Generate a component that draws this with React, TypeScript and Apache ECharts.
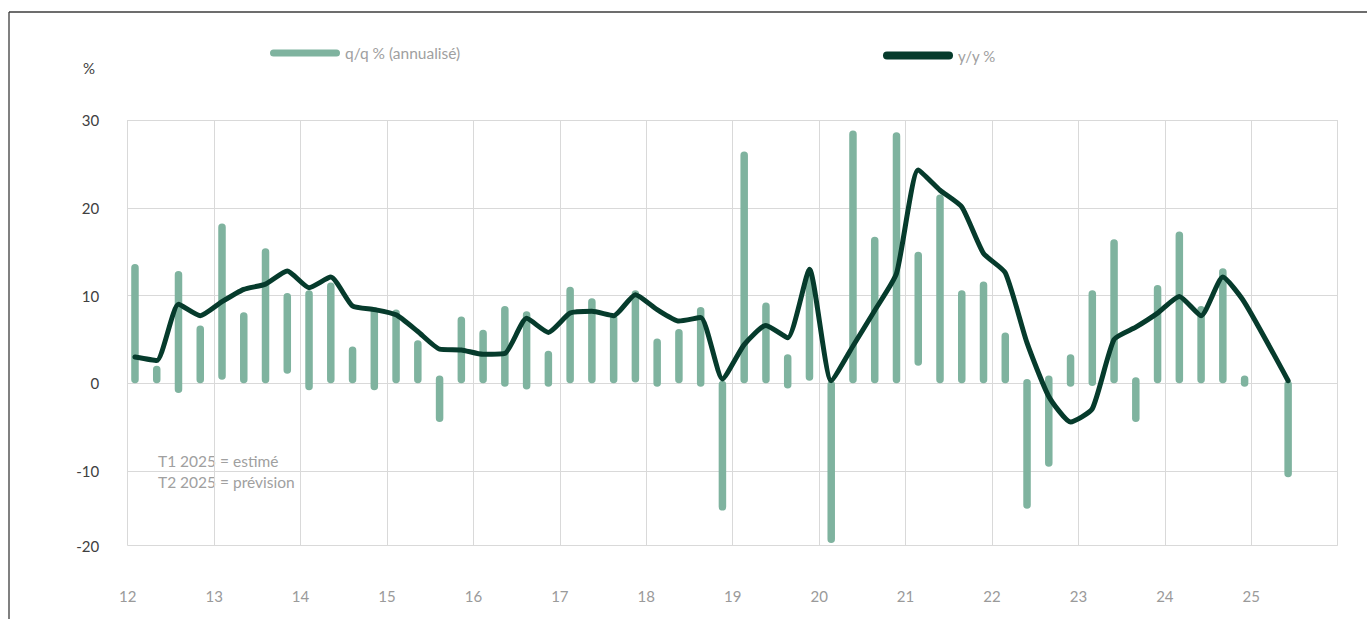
import React, { useEffect, useRef } from "react";
import * as echarts from "echarts";

// ---- Data ----
const years: number[] = [2012, 2013, 2014, 2015, 2016, 2017, 2018, 2019, 2020, 2021, 2022, 2023, 2024, 2025];
const quarterNames: string[] = ["T1", "T2", "T3", "T4"];
const quarters: string[] = [];
years.forEach((y) => quarterNames.forEach((q) => quarters.push(`${q} ${y}`)));
quarters.splice(54); // 2012 T1 .. 2025 T2

const yearTickLabels: string[] = ["12", "13", "14", "15", "16", "17", "18", "19", "20", "21", "22", "23", "24", "25"];

// q/q % (annualised): bar drawn from low to high
const qqHigh: (number | null)[] = [
  13.6, 2.0, 12.8, 6.6, 18.2, 8.1, 15.4, 10.3, 10.6, 11.5, 4.2, 8.7, 8.4, 4.9,
  0.9, 7.6, 6.1, 8.8, 8.2, 3.7, 11.0, 9.7, 7.8, 10.6, 5.1, 6.2, 8.7, 0.3,
  26.4, 9.2, 3.3, 13.1, 0.3, 28.8, 16.7, 28.6, 15.0, 21.5, 10.6, 11.6, 5.8, 0.5,
  0.9, 3.3, 10.6, 16.4, 0.7, 11.2, 17.3, 8.8, 13.1, 0.9, null, 0.3,
];
const qqLow: (number | null)[] = [
  0, 0, -1.1, 0, 0.4, 0, 0, 1.1, -0.8, 0, 0, -0.8, 0, 0,
  -4.4, 0, 0, -0.4, -0.7, -0.4, 0, 0, 0, 0.1, -0.4, 0, -0.4, -14.5,
  0, 0, -0.6, 0.3, -18.2, 0, 0, 0, 2.0, 0, 0, 0, 0, -14.3,
  -9.5, -0.4, -0.3, 0, -4.4, 0, 0, 0, 0, -0.4, null, -10.7,
];
// y/y %
const yoy: (number | null)[] = [
  3.0, 2.6, 9.0, 7.7, 9.3, 10.7, 11.3, 12.8, 10.9, 12.1, 8.8, 8.4, 7.8, 5.9,
  3.9, 3.8, 3.3, 3.4, 7.4, 5.8, 8.0, 8.2, 7.7, 10.1, 8.4, 7.1, 7.5, 0.5,
  4.4, 6.6, 5.2, 13.0, 0.3, 4.25, 8.3, 12.5, 24.3, 22.0, 20.1, 14.8, 12.6, 4.6,
  -1.5, -4.4, -2.9, 5.0, 6.4, 8.0, 9.9, 7.7, 12.1, 9.2, null, 0.3,
];

const NAME_QQ = "q/q % (annualisé)";
const NAME_YOY = "y/y %";
const NOTE_LINES: string[] = ["T1 2025 = estimé", "T2 2025 = prévision"];

const Y_MIN = -18.5;
const Y_MAX = 30;

const BAR_COLOR = "#7fb39f";
const LINE_COLOR = "#063b2c";
const GRID_COLOR = "#d9d9d9";
const FONT = "Lato";

const pill = (w: number, h: number) => {
  const r = h / 2;
  return `path://M${r},0 L${w - r},0 A${r},${r} 0 0 1 ${w - r},${h} L${r},${h} A${r},${r} 0 0 1 ${r},0 Z`;
};

export default function App() {
  const ref = useRef<HTMLDivElement>(null);

  useEffect(() => {
    if (!ref.current) return;
    const chart = echarts.init(ref.current, undefined, { renderer: "svg" });

    const barData = quarters
      .map((_, i) => (qqHigh[i] == null || qqLow[i] == null ? null : [i, qqLow[i], qqHigh[i]]))
      .filter((d) => d !== null);

    const option: any = {
      animation: false,
      backgroundColor: "#ffffff",
      textStyle: { fontFamily: FONT },
      grid: [
        { left: 124.1, right: 68, top: 120, bottom: 73.3 },
        { left: 127.7, right: 29.3, top: 120, bottom: 73.3 },
      ],
      xAxis: [
        {
          type: "category",
          gridIndex: 0,
          data: quarters,
          boundaryGap: true,
          show: false,
        },
        {
          type: "value",
          gridIndex: 1,
          min: 2012,
          max: 2026,
          interval: 1,
          axisLine: { show: false },
          axisTick: { show: false },
          splitLine: { show: true, lineStyle: { color: GRID_COLOR, width: 1 } },
          axisLabel: {
            margin: 43,
            color: "#9a9a9a",
            fontSize: 15,
            fontFamily: FONT,
            formatter: (v: number) => yearTickLabels[Math.round(v) - 2012] ?? "",
          },
        },
      ],
      yAxis: [
        { type: "value", gridIndex: 0, min: Y_MIN, max: Y_MAX, show: false, minInterval: 10, maxInterval: 10 },
        {
          type: "value",
          gridIndex: 1,
          min: Y_MIN,
          max: Y_MAX,
          minInterval: 10,
          maxInterval: 10,
          axisLine: { show: false },
          axisTick: { show: false },
          splitLine: { show: true, lineStyle: { color: GRID_COLOR, width: 1 } },
          axisLabel: {
            margin: 28.5,
            color: "#404040",
            fontSize: 15,
            fontFamily: FONT,
            formatter: (v: number) => (v === Y_MIN ? "-20" : String(v)),
          },
        },
      ],
      legend: [
        {
          data: [{ name: NAME_QQ, icon: pill(70, 7), itemStyle: { color: BAR_COLOR, borderWidth: 0 } }],
          left: 270,
          top: 45,
          padding: 0,
          itemWidth: 70,
          itemHeight: 7,
          selectedMode: false,
          textStyle: { color: "#a0a0a0", fontSize: 15.5, fontFamily: FONT },
        },
        {
          data: [{ name: NAME_YOY, icon: pill(70, 8), itemStyle: { color: LINE_COLOR, borderWidth: 0 } }],
          left: 883,
          top: 48,
          padding: 0,
          itemWidth: 70,
          itemHeight: 8,
          selectedMode: false,
          textStyle: { color: "#a0a0a0", fontSize: 15, fontFamily: FONT },
        },
      ],
      graphic: [
        { type: "line", shape: { x1: 9, y1: 12, x2: 1367, y2: 12 }, style: { stroke: "#3c3c3c", lineWidth: 1.3 }, silent: true },
        { type: "line", shape: { x1: 9, y1: 12, x2: 9, y2: 619 }, style: { stroke: "#3c3c3c", lineWidth: 1.3 }, silent: true },
        {
          type: "text",
          x: 83,
          y: 68,
          style: { text: "%", fill: "#404040", fontSize: 15, fontFamily: FONT, align: "left", verticalAlign: "middle" },
        },
        {
          type: "text",
          x: 158,
          y: 461,
          style: { text: NOTE_LINES[0], fill: "#a0a0a0", fontSize: 15.5, fontFamily: FONT, align: "left", verticalAlign: "middle" },
        },
        {
          type: "text",
          x: 158,
          y: 482,
          style: { text: NOTE_LINES[1], fill: "#a0a0a0", fontSize: 15.5, fontFamily: FONT, align: "left", verticalAlign: "middle" },
        },
      ],
      series: [
        {
          name: NAME_QQ,
          type: "custom",
          xAxisIndex: 0,
          yAxisIndex: 0,
          itemStyle: { color: BAR_COLOR },
          encode: { x: 0, y: [1, 2] },
          data: barData,
          z: 2,
          renderItem: (params: any, api: any) => {
            const idx = api.value(0);
            const lo = api.value(1);
            const hi = api.value(2);
            const top = api.coord([idx, hi]);
            const bot = api.coord([idx, lo]);
            const w = 7.5;
            const h = Math.max(bot[1] - top[1], w);
            return {
              type: "rect",
              shape: { x: top[0] - w / 2, y: top[1], width: w, height: h, r: w / 2 },
              style: { fill: BAR_COLOR },
            };
          },
        },
        {
          name: NAME_YOY,
          type: "line",
          xAxisIndex: 0,
          yAxisIndex: 0,
          data: yoy,
          smooth: 0.18,
          connectNulls: true,
          symbol: "none",
          itemStyle: { color: LINE_COLOR },
          lineStyle: { color: LINE_COLOR, width: 5, cap: "round", join: "round" },
          z: 3,
        },
      ],
    };

    chart.setOption(option);
    return () => chart.dispose();
  }, []);

  return (
    <div
      ref={ref}
      style={{ position: "fixed", left: 0, top: 0, width: 1367, height: 619, background: "#fff" }}
    />
  );
}
